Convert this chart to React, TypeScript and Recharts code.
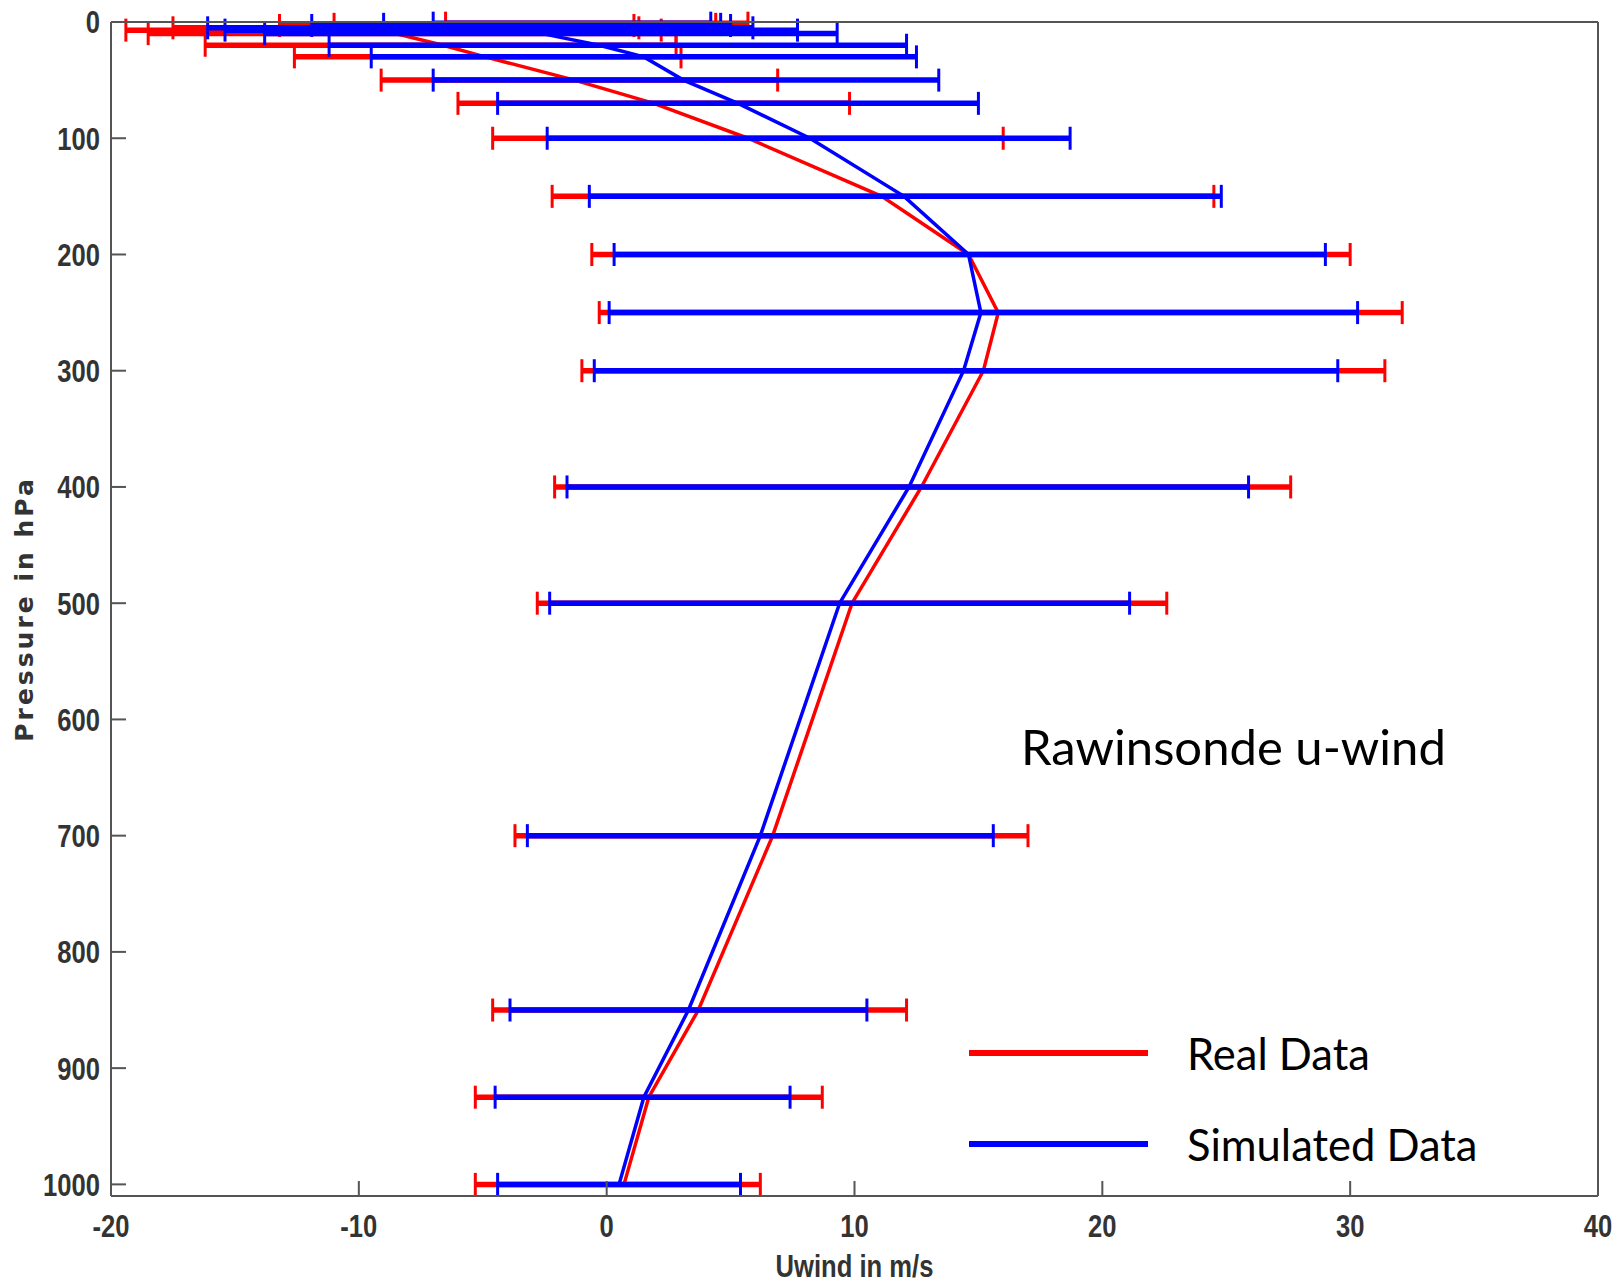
import React from "react";
import {ComposedChart, ErrorBar, Label, Legend, Line, XAxis, YAxis} from "recharts";

// mandatory sounding levels, hPa
const pressure = [1, 2, 3, 5, 7, 10, 20, 30, 50, 70, 100, 150, 200, 250, 300, 400, 500, 700, 850, 925, 1000];

// real data: mean u-wind and the two ends of its error bar (m/s)
const realMean = [-0.4, -3.3, -6.1, -8.1, -8.6, -8.5, -6.6, -4.9, -1.3, 1.9, 5.7, 11.1, 14.6, 15.8, 15.2, 12.7, 9.9, 6.7, 3.7, 1.7, 0.7];
const realLow = [-6.5, -11.0, -13.2, -17.5, -19.4, -18.5, -16.2, -12.6, -9.1, -6.0, -4.6, -2.2, -0.6, -0.3, -1.0, -2.1, -2.8, -3.7, -4.6, -5.3, -5.3];
const realHigh = [5.7, 4.4, 1.1, 1.3, 2.2, 2.8, 2.8, 3.0, 6.9, 9.8, 16.0, 24.5, 30.0, 32.1, 31.4, 27.6, 22.6, 17.0, 12.1, 8.7, 6.2];

// simulated data
const simMean = [-1.5, -2.3, -3.5, -5.0, -3.9, -2.6, -0.3, 1.5, 3.1, 5.3, 8.2, 12.0, 14.6, 15.1, 14.4, 12.2, 9.4, 6.2, 3.3, 1.5, 0.5];
const simLow = [-7.0, -9.0, -11.9, -16.1, -15.4, -13.8, -11.2, -9.5, -7.0, -4.4, -2.4, -0.7, 0.3, 0.1, -0.5, -1.6, -2.3, -3.2, -3.9, -4.5, -4.4];
const simHigh = [4.2, 4.6, 5.0, 5.9, 7.7, 9.3, 12.1, 12.5, 13.4, 15.0, 18.7, 24.8, 29.0, 30.3, 29.5, 25.9, 21.1, 15.6, 10.5, 7.4, 5.4];

const xTicks = [-20, -10, 0, 10, 20, 30, 40];
const yTicks = [0, 100, 200, 300, 400, 500, 600, 700, 800, 900, 1000];

const data = pressure.map((p, i) => ({
    p,
    real: realMean[i],
    realErr: [realMean[i] - realLow[i], realHigh[i] - realMean[i]],
    sim: simMean[i],
    simErr: [simMean[i] - simLow[i], simHigh[i] - simMean[i]],
}));

const tickFont = "'Liberation Sans', Arial, sans-serif";
const textFont = "Lato, 'Open Sans', sans-serif";
const axisGrey = "#555";

// matlab-ish narrow labels: normal font squeezed horizontally
const NarrowTick = (props: any) => {
    const {x, y, payload, textAnchor, verticalAnchor} = props;
    const dy = verticalAnchor === "start" ? "0.71em" : verticalAnchor === "middle" ? "0.355em" : "0";
    return (
        <g transform={`translate(${x},${y})`}>
            <text transform="scale(0.8,1)" textAnchor={textAnchor} dy={dy} fill="#333" fontFamily={tickFont}
                  fontWeight="bold" fontSize={32}>
                {payload.value}
            </text>
        </g>
    );
};

function LegendBox(props: any) {
    const items = props.payload || [];
    return (
        <div style={{fontFamily: textFont, fontSize: 43.5, color: "#000"}}>
            {items.map((it: any) => (
                <div key={it.value} style={{display: "flex", alignItems: "center", height: 91}}>
                    <span style={{display: "inline-block", width: 179, height: 6, background: it.color, marginRight: 39}}/>
                    <span>{it.value}</span>
                </div>
            ))}
        </div>
    );
}

const YTitle = (props: any) => {
    const vb = props.viewBox;
    const cy = vb.y + vb.height / 2;
    return (
        <text x={24} y={cy} transform={`rotate(-90, 24, ${cy})`} textAnchor="middle" dominantBaseline="central"
              fill="#333" fontFamily="'DejaVu Sans', sans-serif" fontWeight="bold" fontSize={25} letterSpacing={3}>
            Pressure in hPa
        </text>
    );
};

const XTitle = (props: any) => {
    const vb = props.viewBox;
    const cx = vb.x + vb.width / 2;
    const cy = vb.y + 81;
    return (
        <g transform={`translate(${cx},${cy})`}>
            <text transform="scale(0.8,1)" textAnchor="middle" fill="#333" fontFamily={tickFont} fontWeight="bold"
                  fontSize={32}>
                Uwind in m/s
            </text>
        </g>
    );
};

export default function App() {
    return (
        <div style={{position: "absolute", left: 0, top: 0, width: 1617, height: 1286, background: "#fff"}}>
            <ComposedChart width={1617} height={1286} data={data} layout="vertical"
                           margin={{top: 21, right: 18, bottom: 30, left: 51}}>
                <XAxis type="number" domain={[-20, 40]} ticks={xTicks} allowDataOverflow height={60}
                       stroke={axisGrey} strokeWidth={2} tickSize={-15} tickMargin={33} tick={<NarrowTick/>}
                       interval={0}>
                    <Label content={XTitle}/>
                </XAxis>
                <XAxis xAxisId="top" orientation="top" type="number" domain={[-20, 40]} ticks={xTicks}
                       allowDataOverflow height={1} stroke={axisGrey} strokeWidth={2} tickSize={-15} tick={false}
                       interval={0}/>
                <YAxis type="number" dataKey="p" domain={[0, 1010]} ticks={yTicks} allowDataOverflow
                       width={60} stroke={axisGrey} strokeWidth={2} tickSize={-15} tickMargin={26}
                       tick={<NarrowTick/>} interval={0}>
                    <Label content={YTitle}/>
                </YAxis>
                <YAxis yAxisId="right" orientation="right" type="number" domain={[0, 1010]} ticks={yTicks}
                       allowDataOverflow width={1} stroke={axisGrey} strokeWidth={2} tickSize={-15} tick={false}
                       interval={0}/>
                <Line dataKey="real" name="Real Data" stroke="#ff0000" strokeWidth={3.5} dot={false}
                      activeDot={false} isAnimationActive={false}>
                    <ErrorBar dataKey="realErr" direction="x" width={0} stroke="#ff0000" strokeWidth={5.5}
                              isAnimationActive={false}/>
                    <ErrorBar dataKey="realErr" direction="x" width={11.5} stroke="#ff0000" strokeWidth={3}
                              isAnimationActive={false}/>
                </Line>
                <Line dataKey="sim" name="Simulated Data" stroke="#0000ff" strokeWidth={3.5} dot={false}
                      activeDot={false} isAnimationActive={false}>
                    <ErrorBar dataKey="simErr" direction="x" width={0} stroke="#0000ff" strokeWidth={5.5}
                              isAnimationActive={false}/>
                    <ErrorBar dataKey="simErr" direction="x" width={11.5} stroke="#0000ff" strokeWidth={3}
                              isAnimationActive={false}/>
                </Line>
                <Legend content={LegendBox} layout="vertical" align="center" verticalAlign="middle"
                        wrapperStyle={{left: 969, top: 1007, width: 560}}/>
            </ComposedChart>
            <div style={{position: "absolute", left: 1021, top: 717, fontFamily: textFont, fontSize: 49,
                lineHeight: "58px", color: "#000", whiteSpace: "nowrap"}}>
                Rawinsonde u-wind
            </div>
        </div>
    );
}
